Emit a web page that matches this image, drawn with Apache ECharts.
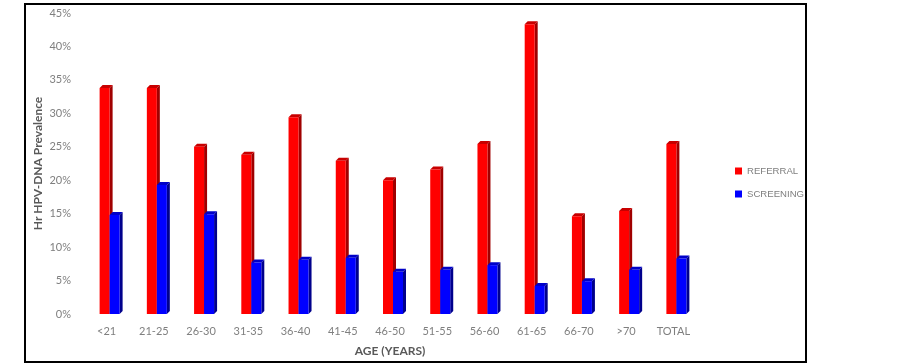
<!DOCTYPE html>
<html>
<head>
<meta charset="utf-8">
<script src="https://cdn.jsdelivr.net/npm/echarts@6/dist/echarts.min.js"></script>
<style>html,body{margin:0;padding:0;background:#fff}#c{width:902px;height:364px}</style>
</head>
<body>
<div id="c"></div>
<script>
var categories = ['<21','21-25','26-30','31-35','36-40','41-45','46-50','51-55','56-60','61-65','66-70','>70','TOTAL'];
var referral = [33.8, 33.8, 25.0, 23.8, 29.4, 22.9, 20.0, 21.6, 25.4, 43.3, 14.6, 15.4, 25.4];
var screening = [14.8, 19.3, 14.9, 7.7, 8.1, 8.4, 6.3, 6.6, 7.3, 4.2, 4.9, 6.6, 8.3];
var yTicks = [0, 5, 10, 15, 20, 25, 30, 35, 40, 45];

var chart = echarts.init(document.getElementById('c'));

function make3D(offset, front, side, top) {
  return function (params, api) {
    var idx = api.value(0), v = api.value(1);
    var p = api.coord([idx, v]);
    var base = api.coord([idx, 0]);
    var w = 10, d = 3;
    var x0 = p[0] + offset, x1 = x0 + w;
    var yt = p[1], yb = base[1];
    return {
      type: 'group',
      children: [
        { type: 'polygon', shape: { points: [[x1, yt], [x1 + d, yt - d], [x1 + d, yb - d], [x1, yb]] }, style: { fill: side } },
        { type: 'polygon', shape: { points: [[x0, yt], [x0 + d, yt - d], [x1 + d, yt - d], [x1, yt]] }, style: { fill: top } },
        { type: 'rect', shape: { x: x0, y: yt, width: w, height: yb - yt }, style: { fill: front } }
      ]
    };
  };
}

var font = 'Lato, "Open Sans", sans-serif';
chart.setOption({
  animation: false,
  backgroundColor: '#ffffff',
  graphic: [{
    type: 'rect', z: 100,
    shape: { x: 25, y: 4, width: 781, height: 358 },
    style: { fill: 'none', stroke: '#000', lineWidth: 2 }
  }],
  grid: { left: 83, right: 205, top: 13, bottom: 50, containLabel: false, outerBoundsMode: 'none' },
  legend: {
    orient: 'vertical', left: 735, top: 166, itemGap: 13, padding: 0,
    itemWidth: 7, itemHeight: 7, itemTextGap: 4, icon: 'rect',
    textStyle: { color: '#7f7f7f', fontSize: 9.6, fontFamily: '"Liberation Sans", Arial, sans-serif' },
    data: ['REFERRAL', 'SCREENING']
  },
  xAxis: {
    type: 'category', data: categories,
    axisLine: { show: false }, axisTick: { show: false },
    axisLabel: { color: '#7f7f7f', fontSize: 11, margin: 12, fontFamily: font },
    name: 'AGE (YEARS)', nameLocation: 'middle', nameGap: 31, nameMoveOverlap: false,
    nameTextStyle: { color: '#595959', fontSize: 12, fontWeight: 'bold', fontFamily: font }
  },
  yAxis: {
    type: 'value', min: 0, max: 45, interval: 5,
    splitLine: { show: false }, axisLine: { show: false }, axisTick: { show: false },
    axisLabel: { color: '#7f7f7f', fontSize: 11, margin: 12, formatter: '{value}%', fontFamily: font },
    name: 'Hr HPV-DNA Prevalence', nameLocation: 'middle', nameGap: 39, nameMoveOverlap: false,
    nameTextStyle: { color: '#595959', fontSize: 12, fontWeight: 'bold', fontFamily: font }
  },
  series: [
    {
      name: 'REFERRAL', type: 'custom', itemStyle: { color: '#ff0000' },
      renderItem: make3D(-7, '#ff0000', '#a00000', '#c80000'),
      encode: { x: 0, y: 1 },
      data: referral.map(function (v, i) { return [i, v]; })
    },
    {
      name: 'SCREENING', type: 'custom', itemStyle: { color: '#0000ff' },
      renderItem: make3D(3, '#0000ff', '#00008c', '#0000c8'),
      encode: { x: 0, y: 1 },
      data: screening.map(function (v, i) { return [i, v]; })
    }
  ]
});
</script>
</body>
</html>
